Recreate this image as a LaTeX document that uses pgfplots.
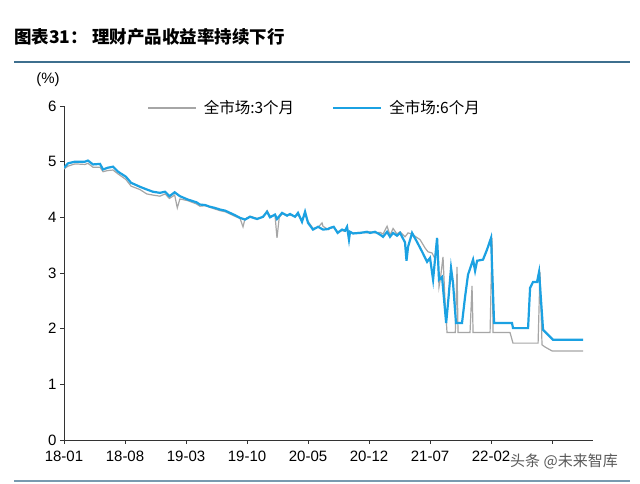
\documentclass[border=0pt]{standalone}
\usepackage{fontspec}
\setmainfont{Liberation Sans}
\newfontfamily\cjk{Noto Sans CJK SC}
\usepackage{pgfplots}
\pgfplotsset{compat=1.18}
\definecolor{sixm}{HTML}{1BA1E2}
\definecolor{threem}{HTML}{A6A6A6}
\definecolor{rulec}{HTML}{3E6F8E}
\begin{document}
\begin{tikzpicture}
\path[use as bounding box,fill=white] (0pt,0pt) rectangle (640pt,484pt);
\node[anchor=west,inner sep=0pt,font=\cjk\bfseries\fontsize{17.5}{20}\selectfont] at (14pt,447pt) {图表31： 理财产品收益率持续下行};
\draw[rulec,line width=1.5pt] (14pt,422pt) -- (630pt,422pt);
\draw[rulec!70,line width=1.2pt] (14pt,3pt) -- (630pt,3pt);
\node[font=\fontsize{15}{17}\selectfont,inner sep=0pt] at (48pt,404pt) {(\%)};
\begin{axis}[
  scale only axis, width=529pt, height=334pt,
  at={(64pt,44pt)}, anchor=south west,
  xmin=0, xmax=60.7, ymin=0, ymax=6,
  axis x line=bottom, axis y line=left,
  axis line style={-, black!80, line width=0.8pt},
  tick style={black!80, line width=0.8pt},
  tick align=outside, major tick length=4pt,
  xtick={0,7,14,21,28,35,42,49,56},
  xticklabels={18-01,18-08,19-03,19-10,20-05,20-12,21-07,22-02,{}},
  ytick={0,1,2,3,4,5,6},
  /pgf/number format/assume math mode=true,
  ticklabel style={font=\fontsize{15}{17}\selectfont},
  xticklabel style={yshift=-3pt},
  legend columns=2,
  legend style={draw=none, fill=none, at={(0.152,0.994)}, anchor=west,
    font=\cjk\fontsize{15.5}{18}\selectfont,
    /tikz/every odd column/.append style={column sep=5pt},
    /tikz/every even column/.append style={column sep=36pt}},
  legend image code/.code={\draw[#1] (0pt,0pt) -- (48pt,0pt);},
]
\addplot[threem, line width=1.2pt] coordinates {
(0,4.87)(0.46,4.92)(1.26,4.96)(2.41,4.95)(2.75,4.97)(3.33,4.90)(4.13,4.90)(4.48,4.82)(5.0,4.84)(5.62,4.85)
(6.2,4.78)(7.1,4.68)(7.7,4.56)(8.7,4.50)(9.5,4.42)(10.2,4.40)(11.0,4.38)(11.6,4.42)(12.1,4.34)(12.7,4.40)
(13.0,4.17)(13.3,4.33)(14.2,4.30)(15.2,4.24)(15.6,4.20)(16.2,4.21)(16.75,4.18)(17.3,4.15)(17.9,4.12)(18.5,4.10)
(19.05,4.06)(19.6,4.02)(20.2,3.98)(20.54,3.83)(20.77,3.97)(21.35,4.02)(22.15,3.98)(22.84,4.00)(23.30,4.12)(23.64,4.02)
(24.21,4.04)(24.44,3.63)(24.7,4.00)(25.02,4.06)(25.59,4.05)(25.94,4.04)(26.51,4.02)(26.85,4.04)(27.31,3.95)(27.66,4.05)
(28.00,3.93)(28.57,3.80)(29.15,3.82)(29.61,3.90)(29.72,3.84)(30.30,3.78)(30.52,3.80)(30.95,3.82)(31.4,3.74)(31.9,3.76)
(32.25,3.75)(32.48,3.80)(32.7,3.70)(32.82,3.73)(33.17,3.72)(33.97,3.73)(34.77,3.72)(35.12,3.74)(35.69,3.72)(36.26,3.73)
(36.61,3.70)(37.07,3.84)(37.41,3.68)(37.76,3.80)(38.21,3.70)(38.56,3.74)(39.13,3.65)(39.48,3.72)(39.94,3.70)(40.28,3.66)
(40.85,3.60)(41.43,3.45)(41.77,3.38)(42.23,3.36)(42.58,3.25)(42.81,3.63)(43.03,2.75)(43.2,2.91)(43.49,3.29)(43.72,2.50)
(43.95,1.93)(44.41,1.93)(44.9,1.93)(45.1,3.11)(45.21,1.93)(46.59,1.93)(46.82,2.77)(46.94,1.93)(48.89,1.93)(49.12,3.63)
(49.23,1.93)(51.18,1.93)(51.52,1.74)(54.40,1.74)(54.62,3.02)(54.85,1.71)(55.20,1.67)(56.0,1.60)(59.56,1.60)
};
\addlegendentry{全市场:3个月}
\addplot[sixm, line width=2.2pt] coordinates {
(0,4.89)(0.46,4.97)(1.26,5.00)(2.41,5.00)(2.75,5.02)(3.33,4.95)(4.13,4.96)(4.48,4.86)(5.0,4.89)(5.62,4.91)
(6.2,4.82)(7.1,4.73)(7.7,4.62)(8.7,4.55)(9.5,4.50)(10.2,4.46)(11.0,4.44)(11.6,4.46)(12.1,4.38)(12.7,4.45)
(13.3,4.38)(14.2,4.32)(15.2,4.27)(15.6,4.23)(16.2,4.22)(16.75,4.19)(17.3,4.17)(17.9,4.14)(18.5,4.12)(19.05,4.08)
(19.6,4.04)(20.2,3.99)(20.77,3.96)(21.35,4.01)(22.15,3.97)(22.84,4.01)(23.30,4.10)(23.64,4.00)(24.21,4.05)(24.44,3.97)
(25.02,4.08)(25.59,4.03)(25.94,4.06)(26.51,4.01)(26.85,4.08)(27.31,3.92)(27.66,4.10)(28.00,3.90)(28.57,3.78)(29.15,3.83)
(29.72,3.78)(30.30,3.79)(30.52,3.81)(30.95,3.83)(31.4,3.72)(31.9,3.78)(32.25,3.76)(32.48,3.83)(32.7,3.60)(32.82,3.74)
(33.17,3.71)(33.97,3.72)(34.77,3.74)(35.12,3.72)(35.69,3.74)(36.26,3.69)(36.61,3.65)(37.07,3.74)(37.41,3.65)(37.76,3.72)
(38.21,3.67)(38.56,3.72)(39.13,3.55)(39.3,3.22)(39.48,3.47)(39.94,3.72)(40.5,3.56)(41.1,3.38)(41.66,3.20)(42.0,3.27)
(42.35,2.88)(42.81,3.63)(43.03,2.88)(43.38,2.93)(43.85,2.10)(44.1,2.52)(44.41,3.09)(44.64,2.82)(44.98,2.10)(45.67,2.10)
(46.02,2.57)(46.36,2.97)(46.94,3.24)(47.17,3.04)(47.40,3.22)(48.08,3.24)(48.54,3.42)(49.00,3.63)(49.35,2.10)(51.41,2.10)
(51.52,2.01)(53.25,2.01)(53.48,2.73)(53.82,2.84)(54.28,2.84)(54.51,3.02)(54.97,1.98)(56.12,1.80)(59.56,1.80)
};
\addlegendentry{全市场:6个月}
\end{axis}
\node[anchor=west,inner sep=0pt,text=black!65,font=\cjk\fontsize{15}{18}\selectfont] at (510pt,23pt) {头条 @未来智库};
\end{tikzpicture}
\end{document}
